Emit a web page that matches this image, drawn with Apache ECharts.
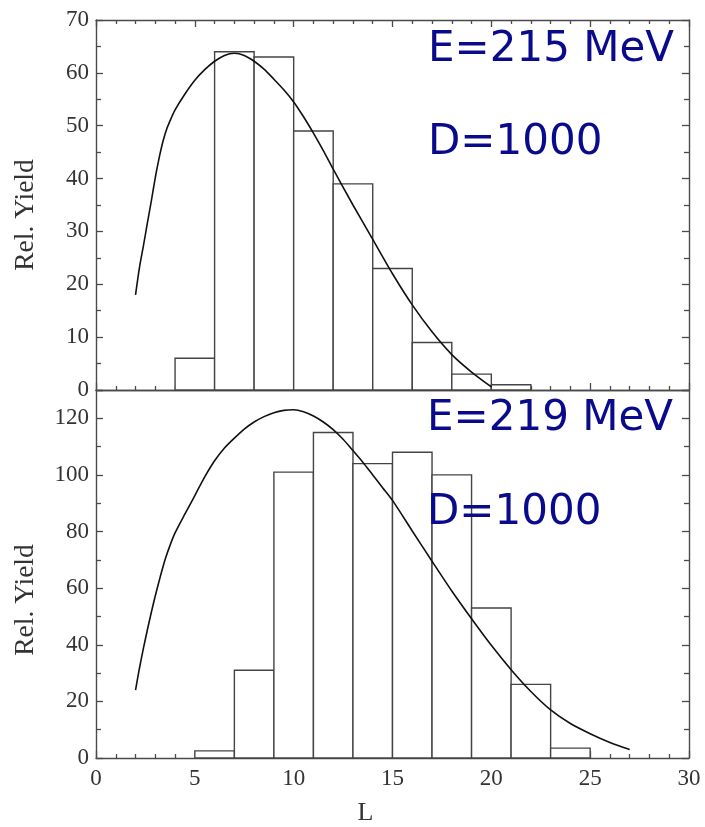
<!DOCTYPE html>
<html>
<head>
<meta charset="utf-8">
<script src="https://cdn.jsdelivr.net/npm/echarts@6/dist/echarts.min.js"></script>
<style>html,body{margin:0;padding:0;background:#fff;}#chart{width:705px;height:827px;}</style>
</head>
<body>
<div id="chart"></div>
<script>
// ---- data ----
// histogram bins: [binStart, binEnd, relYield]
var topBins = [[4,6,6],[6,8,64],[8,10,63],[10,12,49],[12,14,39],[14,16,23],[16,18,9],[18,20,3],[20,22,1]];
var bottomBins = [[5,7,2.5],[7,9,31],[9,11,101],[11,13,115],[13,15,104],[15,17,108],[17,19,100],[19,21,53],[21,23,26],[23,25,3.5]];
// fitted curves: [L, yield]
var topCurve = [[2.0,18],[2.2,23.2],[2.4,27.3],[2.6,31.6],[2.8,35.8],[3.0,40.2],[3.2,44.0],[3.4,47.2],[3.6,49.6],[3.8,51.4],[4.0,53.0],[4.5,56.0],[5.0,58.6],[5.5,60.6],[6.0,62.2],[6.5,63.3],[7.0,63.7],[7.5,63.3],[8.0,62.2],[8.5,60.7],[9.0,58.8],[9.5,56.8],[10.0,54.5],[10.5,51.7],[11.0,48.6],[11.5,45.3],[12.0,41.8],[13.0,35.0],[14.0,28.5],[15.0,22.0],[16.0,16.1],[17.0,11.0],[18.0,6.7],[19.0,3.4],[20.0,0.6]];
var bottomCurve = [[2.0,24],[2.2,31.8],[2.4,38.8],[2.6,45.3],[2.8,51.5],[3.0,57.3],[3.25,64],[3.5,70.2],[3.75,75.2],[4.0,79.5],[4.5,86.2],[5.0,92.7],[5.5,99.3],[6.0,105],[6.5,109.5],[7.0,113],[7.5,116.2],[8.0,118.7],[8.5,120.6],[9.0,122],[9.5,122.8],[10.0,123],[10.5,122.3],[11.0,120.8],[11.5,118.7],[12.0,116],[12.5,112.6],[13.0,108.6],[13.5,104.5],[14.0,100],[14.5,95.5],[15.0,91],[16.0,80.2],[17.0,69.5],[18.0,59],[19.0,49.2],[20.0,39.8],[21.0,31.2],[22.0,23.5],[23.0,17],[24.0,12.2],[25.0,8.6],[26.0,5.5],[27.0,3]];
var topNotes = ['E=215 MeV', 'D=1000'];
var bottomNotes = ['E=219 MeV', 'D=1000'];
var yName = 'Rel. Yield';
var xName = 'L';

// ---- styling ----
var axisCol = '#4a4a4a';
var serif = 'Liberation Serif';
var noteCol = '#0a0a8c';

function xAx(gridIndex, pos, showLabels) {
  return {
    type: 'value', gridIndex: gridIndex, position: pos, min: 0, max: 30, interval: 5,
    axisLine: {show: true, onZero: false, lineStyle: {color: axisCol, width: 1.4}},
    axisTick: {show: true, inside: true, length: 7, lineStyle: {color: axisCol, width: 1.3}},
    minorTick: {show: true, splitNumber: 5, length: 4, lineStyle: {color: axisCol, width: 1.3}},
    axisLabel: {show: showLabels, fontFamily: serif, fontSize: 23, color: '#333', margin: 9},
    splitLine: {show: false}, minorSplitLine: {show: false}
  };
}
function yAx(gridIndex, pos, max, interval, showLabels) {
  return {
    type: 'value', gridIndex: gridIndex, position: pos, min: 0, max: max, interval: interval,
    axisLine: {show: true, onZero: false, lineStyle: {color: axisCol, width: 1.4}},
    axisTick: {show: true, inside: true, length: 7, lineStyle: {color: axisCol, width: 1.3}},
    minorTick: {show: true, splitNumber: 2, length: 5, lineStyle: {color: axisCol, width: 1.3}},
    axisLabel: {show: showLabels, fontFamily: serif, fontSize: 23, color: '#333', margin: 7, showMaxLabel: max % interval === 0},
    splitLine: {show: false}, minorSplitLine: {show: false}
  };
}

var xAxes = [xAx(0,'bottom',false), xAx(0,'top',false), xAx(1,'bottom',true), xAx(1,'top',false)];
xAxes[3].axisTick = {show: false};
xAxes[3].minorTick = {show: false};
xAxes[2].name = xName;
xAxes[2].nameLocation = 'middle';
xAxes[2].nameGap = 42;
xAxes[2].nameTextStyle = {fontFamily: serif, fontSize: 26, color: '#333', padding: [0, 54, 0, 0]};

var yAxes = [yAx(0,'left',70,10,true), yAx(0,'right',70,10,false), yAx(1,'left',130,20,true), yAx(1,'right',130,20,false)];
yAxes[0].name = yName; yAxes[0].nameLocation = 'middle'; yAxes[0].nameGap = 56;
yAxes[0].nameTextStyle = {fontFamily: serif, fontSize: 27.5, color: '#333', padding: [0, 20, 0, 0]};
yAxes[2].name = yName; yAxes[2].nameLocation = 'middle'; yAxes[2].nameGap = 56;
yAxes[2].nameTextStyle = {fontFamily: serif, fontSize: 27.5, color: '#333', padding: [0, 52, 0, 0]};

function histSeries(idx, bins) {
  return {
    type: 'custom', xAxisIndex: idx, yAxisIndex: idx, z: 2,
    data: bins,
    encode: {x: [0, 1], y: 2},
    renderItem: function (params, api) {
      var p0 = api.coord([api.value(0), 0]);
      var p1 = api.coord([api.value(1), api.value(2)]);
      return {
        type: 'rect',
        shape: {x: p0[0], y: p1[1], width: p1[0] - p0[0], height: p0[1] - p1[1]},
        style: {fill: '#fff', stroke: '#444', lineWidth: 1.4}
      };
    }
  };
}
function curveSeries(idx, pts) {
  return {
    type: 'line', xAxisIndex: idx, yAxisIndex: idx, z: 5,
    data: pts, smooth: 0.25, showSymbol: false, symbol: 'none',
    lineStyle: {color: '#111', width: 1.6}
  };
}

function note(text, x, yMid) {
  return {type: 'text', x: x, y: yMid, z: 10,
    style: {text: text, font: '42px "DejaVu Sans"', fill: noteCol, verticalAlign: 'middle', textVerticalAlign: 'middle'}};
}

var chart = echarts.init(document.getElementById('chart'), null, {renderer: 'canvas'});
chart.setOption({
  animation: false,
  backgroundColor: '#fff',
  grid: [
    {left: 96, right: 16, top: 20, height: 370},
    {left: 96, right: 16, top: 390, height: 368}
  ],
  xAxis: [xAxes[0], xAxes[1], xAxes[2], xAxes[3]],
  yAxis: [yAxes[0], yAxes[1], yAxes[2], yAxes[3]],
  series: [
    histSeries(0, topBins), curveSeries(0, topCurve),
    histSeries(2, bottomBins), curveSeries(2, bottomCurve)
  ],
  graphic: [
    note(topNotes[0], 428, 50),
    note(topNotes[1], 428, 143),
    note(bottomNotes[0], 427, 419),
    note(bottomNotes[1], 427, 513)
  ]
});
</script>
</body>
</html>
